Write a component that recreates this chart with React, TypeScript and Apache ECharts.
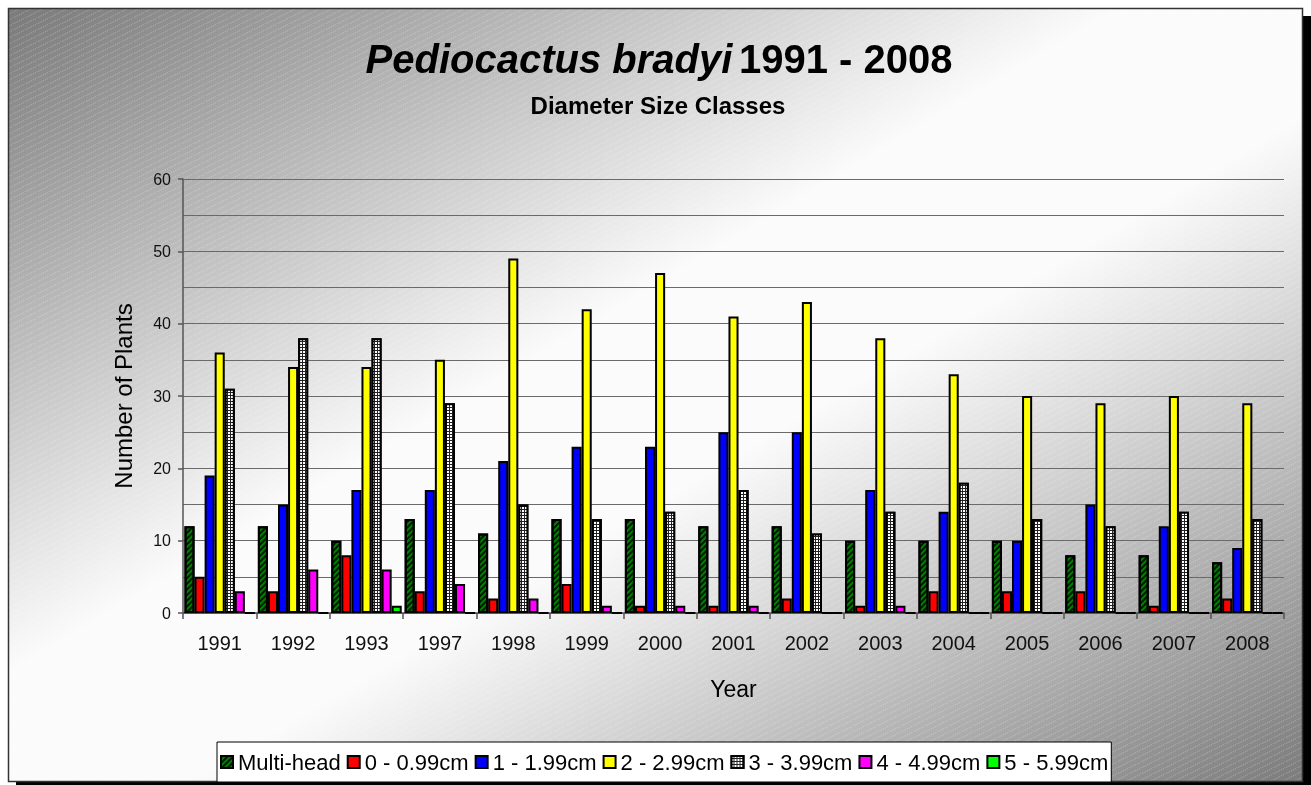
import React, { useEffect, useRef } from "react";
import * as echarts from "echarts";

const years = ["1991", "1992", "1993", "1997", "1998", "1999", "2000", "2001", "2002", "2003", "2004", "2005", "2006", "2007", "2008"];
const seriesNames = ["Multi-head", "0 - 0.99cm", "1 - 1.99cm", "2 - 2.99cm", "3 - 3.99cm", "4 - 4.99cm", "5 - 5.99cm"];
const multiHead = [12, 12, 10, 13, 11, 13, 13, 12, 12, 10, 10, 10, 8, 8, 7];
const size0 = [5, 3, 8, 3, 2, 4, 1, 1, 2, 1, 3, 3, 3, 1, 2];
const size1 = [19, 15, 17, 17, 21, 23, 23, 25, 25, 17, 14, 10, 15, 12, 9];
const size2 = [36, 34, 34, 35, 49, 42, 47, 41, 43, 38, 33, 30, 29, 30, 29];
const size3 = [31, 38, 38, 29, 15, 13, 14, 17, 11, 14, 18, 13, 12, 14, 13];
const size4 = [3, 6, 6, 4, 2, 1, 1, 1, 0, 1, 0, 0, 0, 0, 0];
const size5 = [0, 0, 1, 0, 0, 0, 0, 0, 0, 0, 0, 0, 0, 0, 0];
const seriesValues = [multiHead, size0, size1, size2, size3, size4, size5];
const seriesColors = ["#008000", "#ff0000", "#0000ff", "#ffff00", "#222222", "#ff00ff", "#00ff00"];

const hatchSvg =
  "data:image/svg+xml;charset=utf-8," +
  encodeURIComponent(
    '<svg xmlns="http://www.w3.org/2000/svg" width="12" height="6"><line x1="0" y1="6.5" x2="12" y2="0.5" stroke="rgba(255,255,255,0.28)" stroke-width="1" stroke-dasharray="1.5 1"/></svg>'
  );

export default function App() {
  const ref = useRef<HTMLDivElement>(null);
  useEffect(() => {
    if (!ref.current) return;
    const chart = echarts.init(ref.current, null, { renderer: "svg" });
    const decals: any[] = [
      {
        symbol: "rect",
        symbolSize: 1,
        color: "rgba(0,0,0,0.8)",
        dashArrayX: [1, 0],
        dashArrayY: [1.5, 1.5],
        rotation: -Math.PI / 4,
      },
      null,
      null,
      null,
      {
        symbol: "rect",
        symbolSize: 1,
        color: "#ffffff",
        dashArrayX: [2, 1],
        dashArrayY: [2, 1],
        rotation: 0,
      },
      null,
      null,
    ];
    const series = seriesNames.map((name, i) => ({
      name,
      type: "bar",
      data: seriesValues[i],
      barGap: "0%",
      barCategoryGap: "4%",
      itemStyle: {
        color: seriesColors[i],
        borderColor: "#000",
        borderWidth: 2,
        ...(decals[i] ? { decal: decals[i] } : {}),
      },
    }));
    chart.setOption({
      animation: false,
      graphic: [
        { type: "rect", z: -20, shape: { x: 16, y: 16, width: 1295, height: 769 }, style: { fill: "#000" } },
        {
          type: "rect",
          z: -19,
          shape: { x: 8.5, y: 8.5, width: 1294, height: 773 },
          style: {
            fill: new echarts.graphic.LinearGradient(
              314, -175, 996, 965,
              [
                { offset: 0, color: "#7a7a7a" },
                { offset: 0.43, color: "#fbfbfb" },
                { offset: 0.57, color: "#fbfbfb" },
                { offset: 1, color: "#7c7c7c" },
              ],
              true
            ),
            stroke: "#333",
            lineWidth: 1.5,
          },
        },
        {
          type: "rect",
          z: -18,
          shape: { x: 9.5, y: 9.5, width: 1292, height: 771 },
          style: { fill: { image: hatchSvg, repeat: "repeat" } as any },
        },
        {
          type: "text",
          x: 659,
          y: 39,
          style: {
            text: "{i|Pediocactus bradyi}  {b|1991 - 2008}",
            align: "center",
            verticalAlign: "top",
            rich: {
              i: { fontFamily: "Arial, Liberation Sans", fontSize: 40, fontWeight: "bold", fontStyle: "italic", fill: "#000" },
              b: { fontFamily: "Arial, Liberation Sans", fontSize: 40, fontWeight: "bold", fill: "#000" },
            },
          },
        },
        {
          type: "text",
          x: 658,
          y: 93,
          style: {
            text: "Diameter Size Classes",
            align: "center",
            verticalAlign: "top",
            fontFamily: "Arial, Liberation Sans",
            fontSize: 24,
            fontWeight: "bold",
            fill: "#000",
          },
        },
      ],
      grid: { left: 183, right: 27, top: 179, bottom: 172, containLabel: false },
      legend: {
        data: seriesNames,
        left: 217,
        top: 742,
        orient: "horizontal",
        icon: "rect",
        itemWidth: 12,
        itemHeight: 12,
        itemGap: 6,
        padding: [9, 3, 9, 3],
        backgroundColor: "#ffffff",
        borderColor: "#000",
        borderWidth: 1,
        textStyle: { fontFamily: "Arial, Liberation Sans", fontSize: 22, color: "#000" },
      },
      xAxis: {
        type: "category",
        data: years,
        boundaryGap: true,
        name: "Year",
        nameLocation: "middle",
        nameGap: 64,
        nameTextStyle: { fontFamily: "Arial, Liberation Sans", fontSize: 23, color: "#000", verticalAlign: "top" },
        axisLine: { lineStyle: { color: "#555", width: 1.5 } },
        axisTick: { show: true, alignWithLabel: false, length: 6, lineStyle: { color: "#555", width: 1.5 } },
        axisLabel: { interval: 0, margin: 20, fontFamily: "Arial, Liberation Sans", fontSize: 20, color: "#111" },
        splitLine: { show: false },
      },
      yAxis: {
        type: "value",
        min: 0,
        max: 60,
        interval: 10,
        name: "Number of Plants",
        nameLocation: "middle",
        nameGap: 48,
        nameTextStyle: { fontFamily: "Arial, Liberation Sans", fontSize: 24, color: "#000" },
        axisLine: { show: true, lineStyle: { color: "#555", width: 1.5 } },
        axisTick: { show: true, length: 5, lineStyle: { color: "#555", width: 1.5 } },
        axisLabel: { margin: 12, fontFamily: "Arial, Liberation Sans", fontSize: 16, color: "#111" },
        splitLine: { show: true, lineStyle: { color: "#6a6a6a", width: 1 } },
        minorTick: { show: false, splitNumber: 2 },
        minorSplitLine: { show: true, lineStyle: { color: "#6a6a6a", width: 1 } },
      },
      series,
    });
    return () => chart.dispose();
  }, []);
  return <div ref={ref} style={{ position: "fixed", left: 0, top: 0, width: 1311, height: 785 }} />;
}
